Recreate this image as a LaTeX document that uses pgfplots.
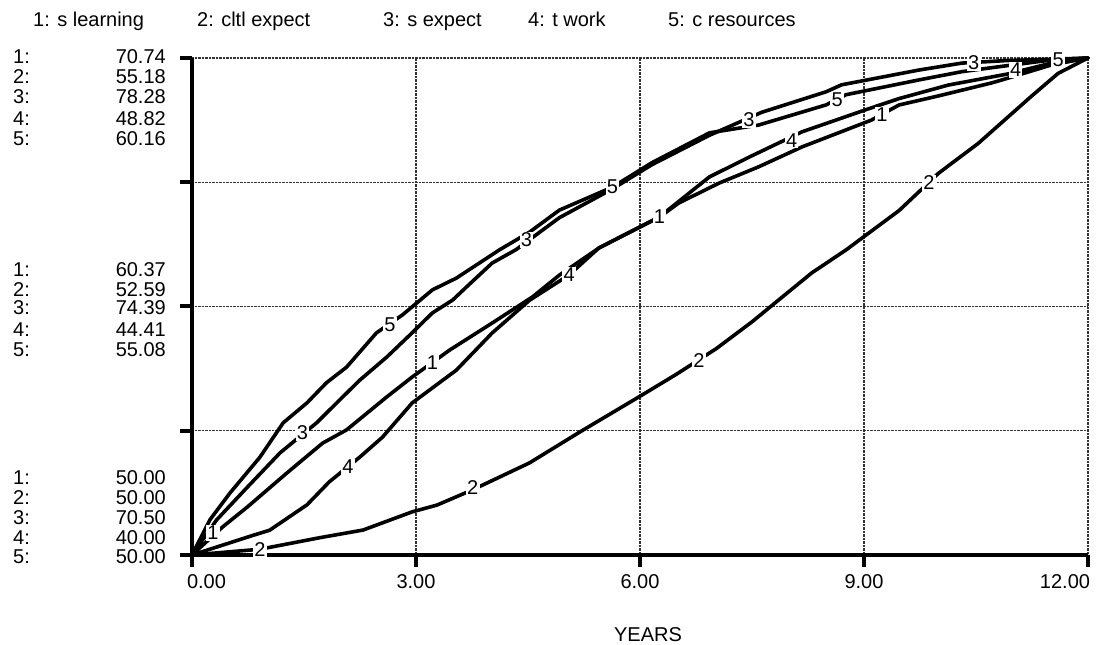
\documentclass[border=0pt]{standalone}
\usepackage{fontspec}
\setmainfont{Liberation Sans}
\usepackage{pgfplots}
\pgfplotsset{compat=1.18}

% every series has its own scale, so the axes lie one over the other
\pgfplotsset{
  stella/.style={
    scale only axis, width=896pt, height=497pt,
    at={(192pt,90pt)}, anchor=south west,
    xmin=0, xmax=12, clip=false,
  },
  hidden/.style={stella, hide axis},
  run/.style={black, line width=3.6pt, line join=round, line cap=round},
}
\tikzset{lab/.style={fill=white, inner sep=1.2pt}}

\begin{document}
\begin{tikzpicture}[font=\fontsize{20}{24}\selectfont]
\useasboundingbox (0pt,0pt) rectangle (1098pt,645pt);

% 1: s learning
\begin{axis}[stella, ymin=50, ymax=70.74,
  xtick={0,3,6,9,12},
  xticklabels={\rlap{\hspace{-5pt}0.00},3.00,6.00,9.00,\llap{12.00\hspace{-2pt}}},
  ytick={50,55.185,60.37,65.555,70.74},
  yticklabels={\empty,\empty,\empty,\empty,\empty},
  xtick pos=left, ytick pos=left, tick align=outside,
  major tick length=12pt,
  tick style={black, line width=4pt},
  axis line style={draw=none},
  grid=major, grid style={densely dotted, line width=1.4pt, black!80},
  xticklabel style={font=\fontsize{20}{24}\selectfont, yshift=-4pt}]
\addplot[run] coordinates {
  (0,50.00) (0.41,51.17) (0.74,52.00) (1.27,53.42) (1.75,54.67) (2.07,55.22)
  (2.61,56.60) (2.95,57.43) (3.45,58.55) (4.02,59.68) (4.56,60.77) (4.92,61.68)
  (5.45,62.81) (6.26,64.10) (6.52,64.69) (7.06,65.52) (7.59,66.20) (8.17,67.03)
  (9.10,68.15) (9.47,68.78) (10.00,69.16) (10.71,69.70) (10.94,69.91)
  (11.51,70.45) (12,70.74)
};
\draw[line width=4.5pt] (rel axis cs:0,1) -- (rel axis cs:0,0) -- (rel axis cs:1,0);
\coordinate (a1) at (axis cs:0.28,50.92);
\coordinate (a2) at (axis cs:3.22,58.01);
\coordinate (a3) at (axis cs:6.26,64.10);
\coordinate (a4) at (axis cs:9.24,68.36);
\end{axis}

% 2: cltl expect
\begin{axis}[hidden, ymin=50, ymax=55.18]
\addplot[run] coordinates {
  (0,50.00) (0.91,50.06) (1.71,50.18) (2.29,50.26) (2.95,50.45) (3.28,50.52)
  (3.76,50.68) (4.52,50.96) (5.19,51.28) (5.99,51.65) (6.48,51.88) (7.02,52.15)
  (7.50,52.43) (7.86,52.66) (8.30,52.94) (8.76,53.18) (9.47,53.59) (10.00,53.98)
  (10.53,54.29) (11.24,54.78) (11.60,55.02) (12,55.18)
};
\coordinate (b1) at (axis cs:0.91,50.06);
\coordinate (b2) at (axis cs:3.76,50.70);
\coordinate (b3) at (axis cs:6.79,52.03);
\coordinate (b4) at (axis cs:9.87,53.88);
\end{axis}

% 3: s expect
\begin{axis}[hidden, ymin=70.5, ymax=78.28]
\addplot[run] coordinates {
  (0,70.50) (0.33,71.05) (0.74,71.56) (1.18,72.10) (1.67,72.57) (1.98,72.93)
  (2.25,73.24) (2.61,73.60) (2.95,73.98) (3.22,74.29) (3.49,74.49) (3.68,74.70)
  (4.02,75.07) (4.34,75.28) (4.92,75.78) (5.63,76.23) (6.16,76.61) (6.93,77.07)
  (7.63,77.43) (8.49,77.75) (8.70,77.86) (9.73,78.09) (10.31,78.20) (10.91,78.24)
  (11.51,78.26) (12,78.28)
};
\coordinate (c1) at (axis cs:1.48,72.41);
\coordinate (c2) at (axis cs:4.48,75.43);
\coordinate (c3) at (axis cs:7.46,77.31);
\coordinate (c4) at (axis cs:10.47,78.20);
\end{axis}

% 4: t work
\begin{axis}[hidden, ymin=40, ymax=48.82]
\addplot[run] coordinates {
  (0,40.00) (0.82,40.35) (1.04,40.44) (1.54,40.89) (1.84,41.30) (2.25,41.74)
  (2.55,42.09) (2.95,42.70) (3.54,43.28) (4.02,43.94) (4.52,44.52) (5.05,44.97)
  (5.45,45.45) (6.26,46.00) (6.93,46.71) (7.46,47.06) (8.17,47.51) (9.02,47.90)
  (9.47,48.10) (10.13,48.34) (10.94,48.54) (11.51,48.73) (12,48.82)
};
\coordinate (d1) at (axis cs:2.09,41.56);
\coordinate (d2) at (axis cs:5.05,44.97);
\coordinate (d3) at (axis cs:8.03,47.36);
\coordinate (d4) at (axis cs:11.03,48.61);
\end{axis}

% 5: c resources
\begin{axis}[hidden, ymin=50, ymax=60.16]
\addplot[run] coordinates {
  (0,50.00) (0.24,50.72) (0.51,51.27) (0.91,52.00) (1.22,52.70) (1.54,53.11)
  (1.80,53.52) (2.07,53.84) (2.47,54.54) (2.82,54.91) (3.22,55.42) (3.54,55.66)
  (4.12,56.24) (4.52,56.60) (4.92,57.05) (5.63,57.52) (6.16,58.02) (6.93,58.63)
  (7.59,58.79) (8.49,59.20) (8.76,59.41) (9.73,59.71) (10.31,59.88) (10.80,59.98)
  (11.51,60.12) (12,60.16)
};
\coordinate (e1) at (axis cs:2.65,54.70);
\coordinate (e2) at (axis cs:5.63,57.52);
\coordinate (e3) at (axis cs:8.64,59.30);
\coordinate (e4) at (axis cs:11.60,60.12);
\end{axis}

% line numbers on the curves
\foreach \p in {a1,a2,a3,a4} \node[lab] at (\p) {1};
\foreach \p in {b1,b2,b3,b4} \node[lab] at (\p) {2};
\foreach \p in {c1,c2,c3,c4} \node[lab] at (\p) {3};
\foreach \p in {d1,d2,d3,d4} \node[lab] at (\p) {4};
\foreach \p in {e1,e2,e3,e4} \node[lab] at (\p) {5};

% series names
\begin{scope}[every node/.style={anchor=base west, inner sep=0pt}]
\node at (33pt,618pt) {1: s learning};
\node at (197pt,618pt) {2: cltl expect};
\node at (383pt,618pt) {3: s expect};
\node at (528pt,618pt) {4: t work};
\node at (668pt,618pt) {5: c resources};
\end{scope}

% scale of each series at top, middle and bottom
\begin{scope}[inner sep=0pt]
\foreach \y/\n/\v in {588/1/70.74, 568/2/55.18, 548/3/78.28, 526/4/48.82, 506/5/60.16,
                      375/1/60.37, 355/2/52.59, 337/3/74.39, 315/4/44.41, 295/5/55.08,
                      167/1/50.00, 147/2/50.00, 127/3/70.50, 107/4/40.00, 88/5/50.00} {
  \node[anchor=west] at (13pt,\y pt) {\n:};
  \node[anchor=east] at (166pt,\y pt) {\v};
}
\end{scope}

\node[inner sep=0pt] at (648pt,10pt) {YEARS};
\end{tikzpicture}
\end{document}
